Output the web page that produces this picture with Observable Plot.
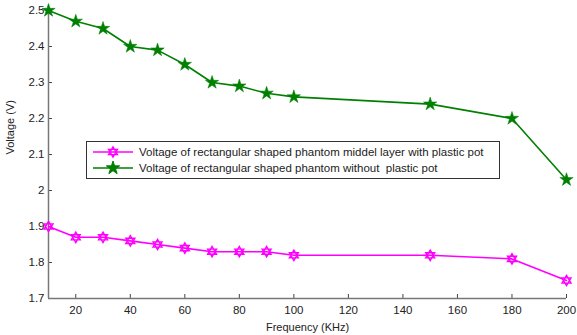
<!DOCTYPE html>
<html><head><meta charset="utf-8">
<script src="https://cdn.jsdelivr.net/npm/d3@7"></script>
<script src="https://cdn.jsdelivr.net/npm/@observablehq/plot@0.6"></script>
<style>
body{margin:0;background:#fff;font-family:"Liberation Sans",Arial,sans-serif;}
#wrap{position:relative;width:577px;height:335px;}
#legend{position:absolute;left:86px;top:141px;width:412px;height:36px;border:1px solid #333;background:#fff;font-size:11.5px;color:#222;}
.row{position:absolute;left:0;height:16px;display:flex;align-items:center;}
.row span{margin-left:4px;white-space:pre;}
</style></head>
<body><div id="wrap"><div id="chart"></div>
<div id="legend">
<div class="row" style="top:2px"><svg width="48" height="16"><line x1="6" x2="46" y1="8" y2="8" stroke="#ff00ff" stroke-width="1.6"/><path id="lm" transform="translate(26,8)" fill="none" stroke="#ff00ff" stroke-width="1.4"/></svg><span>Voltage of rectangular shaped phantom middel layer with plastic pot</span></div>
<div class="row" style="top:18px"><svg width="48" height="16"><line x1="6" x2="46" y1="8" y2="8" stroke="#008000" stroke-width="1.6"/><path id="lg" transform="translate(26,8)" fill="#008000" stroke="#008000" stroke-width="1"/></svg><span>Voltage of rectangular shaped phantom without  plastic pot</span></div>
</div></div>
<script>
const freq = [10,20,30,40,50,60,70,80,90,100,150,180,200];
const withPot = [1.90,1.87,1.87,1.86,1.85,1.84,1.83,1.83,1.83,1.82,1.82,1.81,1.75];
const withoutPot = [2.50,2.47,2.45,2.40,2.39,2.35,2.30,2.29,2.27,2.26,2.24,2.20,2.03];
const xTicks = [20,40,60,80,100,120,140,160,180,200];
const yTicks = [1.7,1.8,1.9,2.0,2.1,2.2,2.3,2.4,2.5];

const hexagram = {draw(ctx, size){
  const r = Math.sqrt(size/ (1.2));
  for (const off of [0, Math.PI/3]) {
    for (let i=0;i<3;i++){
      const a = off - Math.PI/2 + i*2*Math.PI/3;
      const x = r*Math.cos(a), y = r*Math.sin(a);
      if(i===0) ctx.moveTo(x,y); else ctx.lineTo(x,y);
    }
    ctx.closePath();
  }
}};

const dWith = freq.map((f,i)=>({f, v: withPot[i]}));
const dWithout = freq.map((f,i)=>({f, v: withoutPot[i]}));

const fmt = d => d3.format(".1f")(d).replace(/\.0$/,"");
const chart = Plot.plot({
  width: 577, height: 335,
  marginLeft: 48, marginRight: 11, marginTop: 10, marginBottom: 37,
  style: {fontFamily: '"Liberation Sans", Arial, sans-serif', fontSize: "11.5px", color: "#222"},
  x: {domain: [10,200]},
  y: {domain: [1.7,2.5]},
  marks: [
    Plot.axisX({ticks: xTicks, tickSize: -4, tickPadding: 11, stroke: "#444", label: null}),
    Plot.axisY({ticks: yTicks, tickSize: -4, tickPadding: 8, stroke: "#444", tickFormat: fmt, label: null}),
    Plot.ruleX([10], {stroke: "#777", strokeWidth: 1.5}),
    Plot.ruleY([1.7], {stroke: "#777", strokeWidth: 1.5}),
    Plot.line(dWith, {x: "f", y: "v", stroke: "#ff00ff", strokeWidth: 1.6}),
    Plot.dot(dWith, {x: "f", y: "v", symbol: hexagram, r: 3.2, stroke: "#ff00ff", strokeWidth: 1.4, fill: "none"}),
    Plot.line(dWithout, {x: "f", y: "v", stroke: "#008000", strokeWidth: 1.6}),
    Plot.dot(dWithout, {x: "f", y: "v", symbol: "star", r: 4.2, fill: "#008000", stroke: "#008000", strokeWidth: 0.5}),
    Plot.text(["Frequency (KHz)"], {frameAnchor: "bottom", dy: 32, fontSize: 11, fill: "#222"}),
    Plot.text(["Voltage (V)"], {frameAnchor: "left", dx: -38, rotate: -90, fontSize: 11, fill: "#222"})
  ]
});
document.getElementById("chart").appendChild(chart);
const pm = d3.path(); hexagram.draw(pm, 3.2*3.2*Math.PI); document.getElementById("lm").setAttribute("d", pm.toString());
document.getElementById("lg").setAttribute("d", d3.symbol(d3.symbolStar, 4.2*4.2*Math.PI)());
</script></body></html>
